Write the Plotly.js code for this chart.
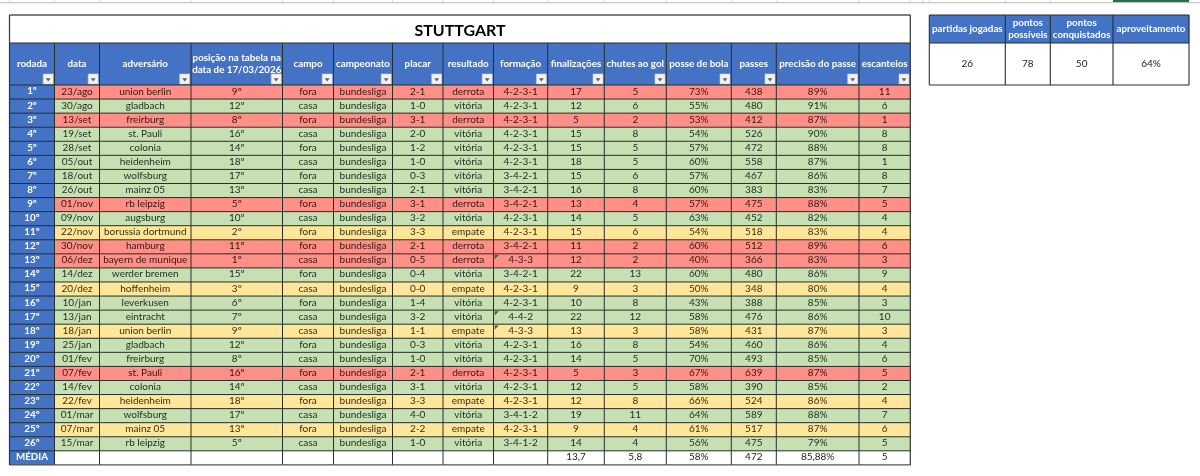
<!DOCTYPE html>
<html><head><meta charset="utf-8">
<script src="https://cdn.plot.ly/plotly-3.0.1.min.js"></script>
<style>html,body{margin:0;padding:0;background:#fff}#c{width:1200px;height:476px;filter:blur(0.3px)}</style>
</head><body><div id="c"></div>
<script>
const tableTitle = 'STUTTGART';
const headers = ['rodada','data','adversário','posição na tabela na<br>data de 17/03/2026','campo','campeonato','placar','resultado','formação','finalizações','chutes ao gol','posse de bola','passes','precisão do passe','escanteios'];
const rodada = ['1º','2º','3º','4º','5º','6º','7º','8º','9º','10º','11º','12º','13º','14º','15º','16º','17º','18º','19º','20º','21º','22º','23º','24º','25º','26º'];
const datas = ['23/ago','30/ago','13/set','19/set','28/set','05/out','18/out','26/out','01/nov','09/nov','22/nov','30/nov','06/dez','14/dez','20/dez','10/jan','13/jan','18/jan','25/jan','01/fev','07/fev','14/fev','22/fev','01/mar','07/mar','15/mar'];
const adversario = ['union berlin','gladbach','freirburg','st. Pauli','colonia','heidenheim','wolfsburg','mainz 05','rb leipzig','augsburg','borussia dortmund','hamburg','bayern de munique','werder bremen','hoffenheim','leverkusen','eintracht','union berlin','gladbach','freirburg','st. Pauli','colonia','heidenheim','wolfsburg','mainz 05','rb leipzig'];
const posicao = ['9º','12º','8º','16º','14º','18º','17º','13º','5º','10º','2º','11º','1º','15º','3º','6º','7º','9º','12º','8º','16º','14º','18º','17º','13º','5º'];
const campo = ['fora','casa','fora','casa','fora','casa','fora','casa','fora','casa','fora','fora','casa','fora','casa','fora','casa','casa','fora','casa','fora','casa','fora','casa','fora','casa'];
const campeonato = rodada.map(() => 'bundesliga');
const placar = ['2-1','1-0','3-1','2-0','1-2','1-0','0-3','2-1','3-1','3-2','3-3','2-1','0-5','0-4','0-0','1-4','3-2','1-1','0-3','1-0','2-1','3-1','3-3','4-0','2-2','1-0'];
const resultado = ['derrota','vitória','derrota','vitória','vitória','vitória','vitória','vitória','derrota','vitória','empate','derrota','derrota','vitória','empate','vitória','vitória','empate','vitória','vitória','derrota','vitória','empate','vitória','empate','vitória'];
const formacao = ['4-2-3-1','4-2-3-1','4-2-3-1','4-2-3-1','4-2-3-1','4-2-3-1','3-4-2-1','3-4-2-1','3-4-2-1','4-2-3-1','4-2-3-1','3-4-2-1','4-3-3','3-4-2-1','4-2-3-1','4-2-3-1','4-4-2','4-3-3','4-2-3-1','4-2-3-1','4-2-3-1','4-2-3-1','4-2-3-1','3-4-1-2','4-2-3-1','3-4-1-2'];
const finalizacoes = [17,12,5,15,15,18,15,16,13,14,15,11,12,22,9,10,22,13,16,14,5,12,12,19,9,14];
const chutes = [5,6,2,8,5,5,6,8,4,5,6,2,2,13,3,8,12,3,8,5,3,5,8,11,4,4];
const posse = ['73%','55%','53%','54%','57%','60%','57%','60%','57%','63%','54%','60%','40%','60%','50%','43%','58%','58%','54%','70%','67%','58%','66%','64%','61%','56%'];
const passes = [438,480,412,526,472,558,467,383,475,452,518,512,366,480,348,388,476,431,460,493,639,390,524,589,517,475];
const precisao = ['89%','91%','87%','90%','88%','87%','86%','83%','88%','82%','83%','89%','83%','86%','80%','85%','86%','87%','86%','85%','87%','85%','86%','88%','87%','79%'];
const escanteios = [11,6,1,8,8,1,8,7,5,4,4,6,3,9,4,3,10,3,4,6,5,2,4,7,6,5];
const media = ['MÉDIA','','','','','','','','','','13,7','5,8','58%','472','85,88%','5'];
const kpiHeaders = ['partidas jogadas','pontos<br>possíveis','pontos<br>conquistados','aproveitamento'];
const kpiValues = [26,78,50,'64%'];
const flaggedRows = [12,16,17];

/* geometry of the sheet, in screen units */
const colEdges = [9.5,54.5,99.5,191,282.5,333.5,392.5,443,493.5,547.7,604.3,666.3,731.3,776.3,859,910.3];
const rowH = 14.07, headTop = 43, bodyTop = 85, titleTop = 15;
const rowEdges = [titleTop, headTop, bodyTop];
for (let i = 1; i <= 27; i++) rowEdges.push(bodyTop + i * rowH);
const kpiEdges = [929.3,1005.3,1050.3,1113,1189];
const kpiRows = [15,43,85];
const sheetEdges = [10,54.5,99.5,191,282.5,333.5,392.5,443,493.5,547.7,604.3,666.3,731.3,776.3,859,910.3,923,929.3,1005.3,1050.3,1113,1189];

const FONT = 'Lato, Carlito, Calibri, sans-serif';
const COL = {white:'#ffffff', blue:'#4472c4', red:'#ff8f87', green:'#c6e0b4', yellow:'#ffe699'};
const CODE = {white:0, blue:1, derrota:2, 'vitória':3, empate:4};
const scale = [[0,COL.white],[.2,COL.white],[.2,COL.blue],[.4,COL.blue],[.4,COL.red],[.6,COL.red],[.6,COL.green],[.8,COL.green],[.8,COL.yellow],[1,COL.yellow]];
const nCols = headers.length;
const columns = [rodada,datas,adversario,posicao,campo,campeonato,placar,resultado,formacao,finalizacoes,chutes,posse,passes,precisao,escanteios];
const mid = (a,i) => (a[i]+a[i+1])/2;

/* fill grid */
const z = [];
z.push(Array(nCols).fill(CODE.white));
z.push(Array(nCols).fill(CODE.blue));
resultado.forEach(r => { const row = Array(nCols).fill(CODE[r]); row[0] = CODE.blue; z.push(row); });
const mRow = Array(nCols).fill(CODE.white); mRow[0] = CODE.blue; z.push(mRow);
const hm = {type:'heatmap', x:colEdges, y:rowEdges, z, zmin:0, zmax:4, colorscale:scale, showscale:false, hoverinfo:'skip', xgap:0, ygap:0};
const hmK = {type:'heatmap', x:kpiEdges, y:kpiRows, z:[[1,1,1,1],[0,0,0,0]], zmin:0, zmax:4, colorscale:scale, showscale:false, hoverinfo:'skip'};

/* text */
const bx=[],by=[],bt=[],bc=[];
const wx=[],wy=[],wt=[];
headers.forEach((h,i)=>{ wx.push(mid(colEdges,i)); wy.push((headTop+bodyTop)/2+.5); wt.push(h); });
kpiHeaders.forEach((h,i)=>{ wx.push(mid(kpiEdges,i)); wy.push((kpiRows[0]+kpiRows[1])/2+.5); wt.push(h); });
const TXT = {derrota:'#3a1512','vitória':'#1f2b1a',empate:'#3a2f10'};
columns.forEach((col,c)=>{ col.forEach((v,r)=>{
  const y = bodyTop + (r+.5)*rowH;
  if(c===0){ wx.push(mid(colEdges,0)); wy.push(y); wt.push(v); }
  else { bx.push(mid(colEdges,c)); by.push(y); bt.push(String(v)); bc.push(TXT[resultado[r]]); }
});});
wx.push(mid(colEdges,0)); wy.push(bodyTop+26.5*rowH); wt.push(media[0]);
media.forEach((v,i)=>{ if(i>0&&v!==''){ bx.push(mid(colEdges,i-1)); by.push(bodyTop+26.5*rowH); bt.push(v); bc.push('#222'); }});
kpiValues.forEach((v,i)=>{ bx.push(mid(kpiEdges,i)); by.push((kpiRows[1]+kpiRows[2])/2); bt.push(String(v)); bc.push('#222'); });

const tBody = {type:'scatter', mode:'text', x:bx, y:by, text:bt, textposition:'middle center', textfont:{family:FONT,size:10,color:bc}, hoverinfo:'skip', cliponaxis:false};
const tHead = {type:'scatter', mode:'text', x:wx, y:wy, text:wt, textposition:'middle center', textfont:{family:FONT,size:9.8,color:'#ffffff',weight:700}, hoverinfo:'skip', cliponaxis:false};
const tTitle = {type:'scatter', mode:'text', x:[460], y:[31.5], text:[tableTitle], textposition:'middle center', textfont:{family:FONT,size:16,color:'#000',weight:700}, hoverinfo:'skip', cliponaxis:false};

/* filter buttons and green flags */
const fbx = colEdges.slice(1).map(e=>e-6.3), fby = fbx.map(()=>79);
const btn = {type:'scatter', mode:'markers', x:fbx, y:fby, marker:{symbol:'square',size:10,color:'#f2f2f2',line:{color:'#d0d0d0',width:.6}}, hoverinfo:'skip'};
const arrow = {type:'scatter', mode:'markers', x:fbx, y:fby.map(v=>v+.4), marker:{symbol:'triangle-down',size:4.2,color:'#606060'}, hoverinfo:'skip'};
const flag = {type:'scatter', mode:'markers', x:flaggedRows.map(()=>colEdges[8]+2.6), y:flaggedRows.map(r=>bodyTop+r*rowH+2.6), marker:{symbol:'triangle-nw',size:4.5,color:'#17752c'}, hoverinfo:'skip'};

/* rules */
const line=(x0,y0,x1,y1,color,w)=>({type:'line',xref:'x',yref:'y',x0,y0,x1,y1,line:{color,width:w},layer:'above'});
const shapes=[];
const GRID='#26302a';
colEdges.slice(1,-1).forEach(x=>shapes.push(line(x,headTop,x,rowEdges[rowEdges.length-1],GRID,1)));
rowEdges.slice(1,-1).forEach(y=>shapes.push(line(colEdges[0],y,colEdges[nCols],y,GRID,1)));
shapes.push(line(colEdges[0],titleTop,colEdges[nCols],titleTop,'#555',1.4));
shapes.push(line(colEdges[0],rowEdges[rowEdges.length-1],colEdges[nCols],rowEdges[rowEdges.length-1],'#555',1.4));
shapes.push(line(colEdges[0],titleTop,colEdges[0],rowEdges[rowEdges.length-1],'#333',1.2));
shapes.push(line(colEdges[nCols],titleTop,colEdges[nCols],rowEdges[rowEdges.length-1],'#333',1.2));
kpiEdges.forEach(x=>shapes.push(line(x,15,x,85,GRID,1.1)));
kpiRows.forEach(y=>shapes.push(line(kpiEdges[0],y,kpiEdges[4],y,GRID,1.1)));
/* spreadsheet strip along the top */
sheetEdges.forEach(x=>shapes.push(line(x,0,x,2.5,'#dcdcdc',1)));
shapes.push(line(0,2.6,1200,2.6,'#c6c6c6',1.2));
shapes.push(line(1113,1,1189,1,'#217346',2));

Plotly.newPlot('c',[hm,hmK,tTitle,tHead,tBody,btn,arrow,flag],{
  width:1200,height:476,margin:{l:0,r:0,t:0,b:0},showlegend:false,hovermode:false,
  paper_bgcolor:'#fff',plot_bgcolor:'#fff',font:{family:FONT},
  xaxis:{range:[0,1200],visible:false,fixedrange:true},
  yaxis:{range:[476,0],visible:false,fixedrange:true},
  shapes
},{displayModeBar:false,staticPlot:true});
</script></body></html>
